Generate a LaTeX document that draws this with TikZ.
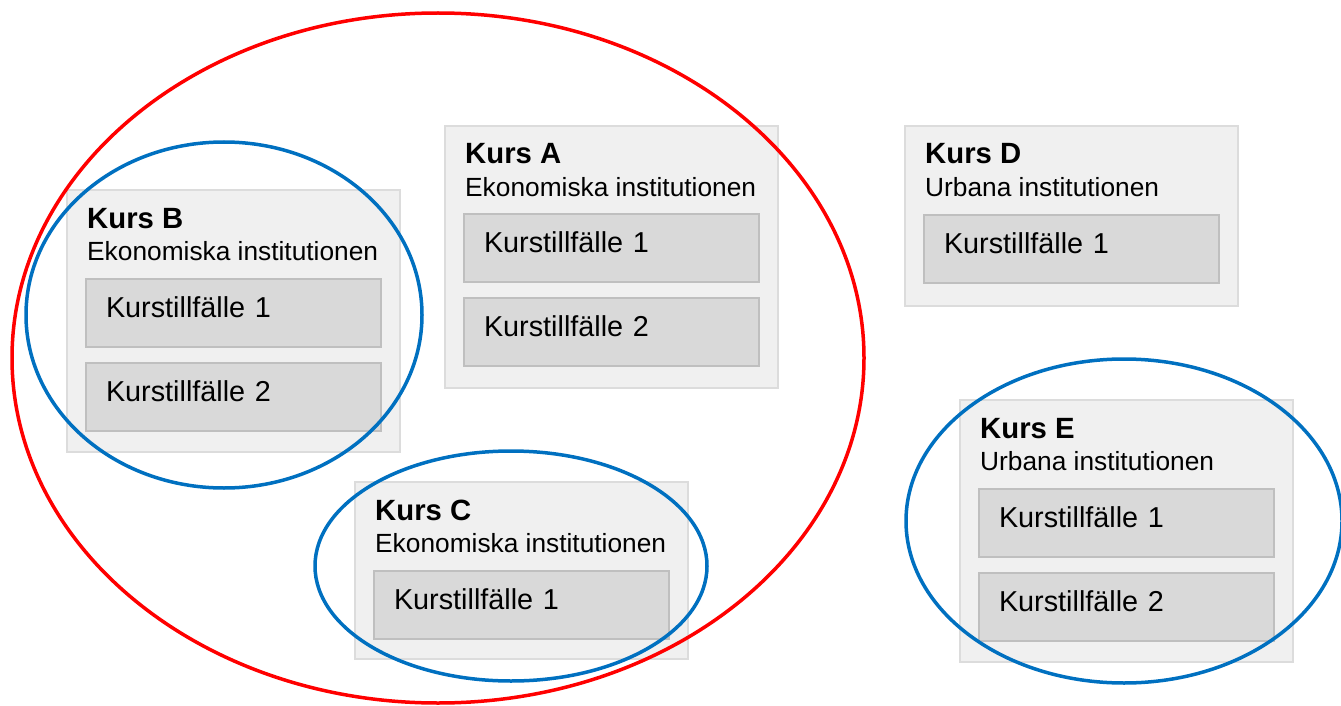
\documentclass[tikz,border=0pt]{standalone}
\usepackage{fontspec}
\setmainfont{Liberation Sans}
\usetikzlibrary{positioning}

\definecolor{boxfill}{HTML}{F0F0F0}
\definecolor{boxline}{HTML}{DCDCDC}
\definecolor{tffill}{HTML}{D9D9D9}
\definecolor{tfline}{HTML}{BFBFBF}
\definecolor{ringblue}{HTML}{0070C0}

\begin{document}
\begin{tikzpicture}[x=1pt, y=-1pt,
	kurs/.style={draw=boxline, fill=boxfill, line width=2pt, anchor=north west, minimum width=333pt, inner sep=0},
	title/.style={anchor=base west, inner sep=0, font=\bfseries\fontsize{29.3}{34}\selectfont},
	inst/.style={anchor=base west, inner sep=0, font=\fontsize{26.3}{30}\selectfont},
	tf/.style={draw=tfline, fill=tffill, line width=2pt, text width=255pt, align=left, inner xsep=20pt, inner ysep=0, minimum height=68pt, text height=20pt, text depth=12pt, font=\fontsize{28.8}{34}\selectfont},
	ring/.style={line width=3.5pt}]
	\useasboundingbox (0,0) rectangle (1341,706);

	\node [kurs, minimum height=262pt] (kA) at (444,125) {};
	\node [kurs, minimum height=262pt] (kB) at (66,189) {};
	\node [kurs, minimum height=177pt] (kC) at (354,481) {};
	\node [kurs, minimum height=180pt] (kD) at (904,125) {};
	\node [kurs, minimum height=262pt] (kE) at (959,399) {};

	\node [title] (tA) at ([shift={(21,39)}]kA.north west) {Kurs A};
	\node [inst]  (iA) at ([shift={(21,71)}]kA.north west) {Ekonomiska institutionen};
	\node [tf, anchor=north west] (A1) at ([shift={(19,88)}]kA.north west) {Kurstillfälle 1};
	\node [tf, below=14pt of A1] (A2) {Kurstillfälle 2};

	\node [title] (tB) at ([shift={(21,39)}]kB.north west) {Kurs B};
	\node [inst]  (iB) at ([shift={(21,71)}]kB.north west) {Ekonomiska institutionen};
	\node [tf, anchor=north west] (B1) at ([shift={(19,89)}]kB.north west) {Kurstillfälle 1};
	\node [tf, below=14pt of B1] (B2) {Kurstillfälle 2};

	\node [title] (tC) at ([shift={(21,39)}]kC.north west) {Kurs C};
	\node [inst]  (iC) at ([shift={(21,71)}]kC.north west) {Ekonomiska institutionen};
	\node [tf, anchor=north west] (C1) at ([shift={(19,89)}]kC.north west) {Kurstillfälle 1};

	\node [title] (tD) at ([shift={(21,39)}]kD.north west) {Kurs D};
	\node [inst]  (iD) at ([shift={(21,71)}]kD.north west) {Urbana institutionen};
	\node [tf, anchor=north west] (D1) at ([shift={(19,89)}]kD.north west) {Kurstillfälle 1};

	\node [title] (tE) at ([shift={(21,39)}]kE.north west) {Kurs E};
	\node [inst]  (iE) at ([shift={(21,71)}]kE.north west) {Urbana institutionen};
	\node [tf, anchor=north west] (E1) at ([shift={(19,89)}]kE.north west) {Kurstillfälle 1};
	\node [tf, below=14pt of E1] (E2) {Kurstillfälle 2};

	\draw[ring, red] (438,358) ellipse [x radius=426, y radius=345];
	\draw[ring, ringblue] (224,315) ellipse [x radius=198, y radius=173];
	\draw[ring, ringblue] (511,566) ellipse [x radius=196, y radius=115];
	\draw[ring, ringblue] (1124,521) ellipse [x radius=218, y radius=162];
\end{tikzpicture}
\end{document}
